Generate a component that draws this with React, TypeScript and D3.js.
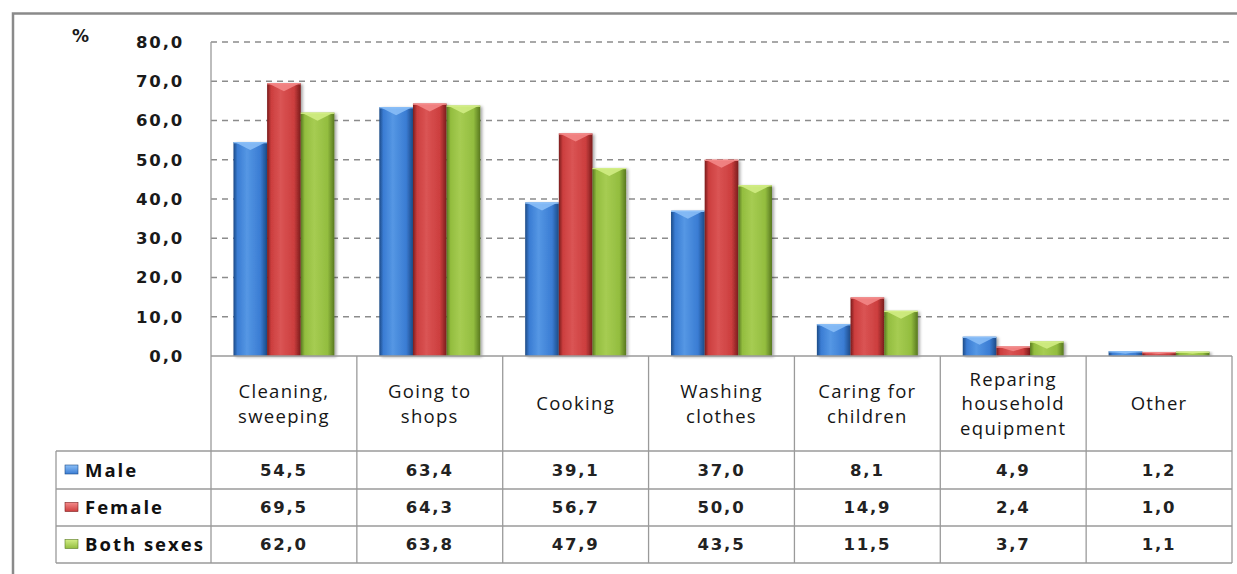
import React from "react";
import * as d3 from "d3";

// Share of people doing each household task, by sex (%)
const categories: string[][] = [
  ["Cleaning,", "sweeping"],
  ["Going to", "shops"],
  ["Cooking"],
  ["Washing", "clothes"],
  ["Caring for", "children"],
  ["Reparing", "household", "equipment"],
  ["Other"],
];
const seriesNames = ["Male", "Female", "Both sexes"];
const maleValues = [54.5, 63.4, 39.1, 37.0, 8.1, 4.9, 1.2];
const femaleValues = [69.5, 64.3, 56.7, 50.0, 14.9, 2.4, 1.0];
const bothValues = [62.0, 63.8, 47.9, 43.5, 11.5, 3.7, 1.1];
const yTicks = [0, 10, 20, 30, 40, 50, 60, 70, 80];

const seriesValues = [maleValues, femaleValues, bothValues];
const palette = [
  { dark: "#1c4a86", mid: "#3a7cd3", light: "#5597e4", top: "#8cc0f8" },
  { dark: "#7a1c1c", mid: "#cc3e3e", light: "#da5454", top: "#f48a8a" },
  { dark: "#587820", mid: "#93bd3f", light: "#a6cc52", top: "#d3ee86" },
];

const fmt = (v: number) => v.toFixed(1).replace(".", ",");

export default function App() {
  const W = 1237;
  const H = 574;
  const plotLeft = 211;
  const plotRight = 1232;
  const plotTop = 42;
  const baseY = 356;
  const rowYs = [451, 489, 526, 563];
  const tableLeft = 56;

  const keys = categories.map((_, i) => String(i));
  const x = d3.scaleBand<string>().domain(keys).range([plotLeft, plotRight]).padding(0);
  const bw = x.bandwidth();
  const inner = d3
    .scaleBand<number>()
    .domain([0, 1, 2])
    .range([bw * 0.154, bw * 0.846])
    .padding(0);
  const y = d3.scaleLinear().domain([0, 80]).range([baseY, plotTop]);

  const font = "'DejaVu Sans', Verdana, sans-serif";
  const labelFont = "'Open Sans', 'DejaVu Sans', sans-serif";

  return (
    <svg width={W} height={H} style={{ display: "block", position: "absolute", left: 0, top: 0 }}>
      <defs>
        {palette.map((p, i) => (
          <linearGradient id={`bar${i}`} key={i} x1="0" x2="1" y1="0" y2="0">
            <stop offset="0" stopColor={p.dark} />
            <stop offset="0.12" stopColor={p.mid} />
            <stop offset="0.4" stopColor={p.light} />
            <stop offset="0.8" stopColor={p.mid} />
            <stop offset="1" stopColor={p.dark} />
          </linearGradient>
        ))}
        {palette.map((p, i) => (
          <linearGradient id={`key${i}`} key={`k${i}`} x1="0" x2="0" y1="0" y2="1">
            <stop offset="0" stopColor={p.top} />
            <stop offset="1" stopColor={p.mid} />
          </linearGradient>
        ))}
        <filter id="shadow" x="-20%" y="-5%" width="150%" height="115%">
          <feDropShadow dx="2" dy="1" stdDeviation="1.6" floodColor="#000" floodOpacity="0.35" />
        </filter>
      </defs>

      <rect x={0} y={0} width={W} height={H} fill="#fff" />
      {/* outer frame */}
      <path d={`M13,${H} V13.5 H${W}`} fill="none" stroke="#8a8a8a" strokeWidth={2.5} />

      {/* gridlines */}
      {yTicks.slice(1).map((t) => (
        <line
          key={t}
          x1={plotLeft}
          x2={plotRight}
          y1={y(t)}
          y2={y(t)}
          stroke="#8c8c8c"
          strokeWidth={1.3}
          strokeDasharray="6,5"
        />
      ))}
      {/* value axis */}
      <line x1={plotLeft} x2={plotLeft} y1={plotTop} y2={baseY} stroke="#9a9a9a" strokeWidth={1.3} />
      {yTicks.map((t) => (
        <text
          key={t}
          x={184}
          y={y(t)}
          dy="0.35em"
          textAnchor="end"
          fontFamily={font}
          fontWeight="bold"
          fontSize={16.5}
          letterSpacing={1.8}
          fill="#1a1a1a"
        >
          {fmt(t)}
        </text>
      ))}
      <text x={72} y={42} fontFamily={font} fontWeight="bold" fontSize={17} fill="#1a1a1a">
        %
      </text>

      {/* bars */}
      {keys.map((k, ci) => (
        <g key={k} transform={`translate(${x(k)},0)`}>
          {seriesValues.map((vals, si) => {
            const v = vals[ci];
            const bx = inner(si)!;
            const w = inner.bandwidth();
            const top = y(v);
            const h = baseY - top;
            const chev = Math.min(8, h * 0.5);
            return (
              <g key={si}>
                <rect x={bx} y={top} width={w} height={h} fill={`url(#bar${si})`} filter="url(#shadow)" />
                <path
                  d={`M${bx + 1},${top} L${bx + w - 1},${top} L${bx + w / 2},${top + chev} Z`}
                  fill={palette[si].top}
                  opacity={0.85}
                />
                <rect x={bx} y={top} width={w} height={1.2} fill={palette[si].top} />
              </g>
            );
          })}
        </g>
      ))}

      {/* data table */}
      <line x1={plotLeft} x2={plotRight} y1={baseY} y2={baseY} stroke="#9a9a9a" strokeWidth={1.5} />
      {rowYs.map((ry) => (
        <line key={ry} x1={tableLeft} x2={plotRight} y1={ry} y2={ry} stroke="#9a9a9a" strokeWidth={1.3} />
      ))}
      <line x1={tableLeft} x2={tableLeft} y1={rowYs[0]} y2={rowYs[3]} stroke="#9a9a9a" strokeWidth={1.3} />
      {[...keys.map((k) => x(k)!), plotRight].map((vx, i) => (
        <line key={i} x1={vx} x2={vx} y1={baseY} y2={rowYs[3]} stroke="#9a9a9a" strokeWidth={1.3} />
      ))}

      {/* category labels */}
      {categories.map((lines, ci) => {
        const cx = x(keys[ci])! + bw / 2;
        const mid = 404;
        const lh = 24.5;
        return (
          <text
            key={ci}
            textAnchor="middle"
            fontFamily={labelFont}
            fontSize={18.5}
            letterSpacing={1.3}
            fill="#151515"
          >
            {lines.map((ln, li) => (
              <tspan key={li} x={cx} y={mid + (li - (lines.length - 1) / 2) * lh} dy="0.35em">
                {ln}
              </tspan>
            ))}
          </text>
        );
      })}

      {/* series rows */}
      {seriesNames.map((name, si) => {
        const cy = (rowYs[si] + rowYs[si + 1]) / 2;
        return (
          <g key={name}>
            <rect x={65} y={cy - 5} width={13} height={9} fill={`url(#key${si})`} stroke={palette[si].dark} strokeWidth={0.6} />
            <text x={85} y={cy} dy="0.36em" fontFamily={labelFont} fontWeight="bold" fontSize={18.5} letterSpacing={2} fill="#111">
              {name}
            </text>
            {seriesValues[si].map((v, ci) => (
              <text
                key={ci}
                x={x(keys[ci])! + bw / 2}
                y={cy}
                dy="0.36em"
                textAnchor="middle"
                fontFamily={font}
                fontWeight="bold"
                fontSize={16.5}
                letterSpacing={1.8}
                fill="#222"
              >
                {fmt(v)}
              </text>
            ))}
          </g>
        );
      })}
    </svg>
  );
}
